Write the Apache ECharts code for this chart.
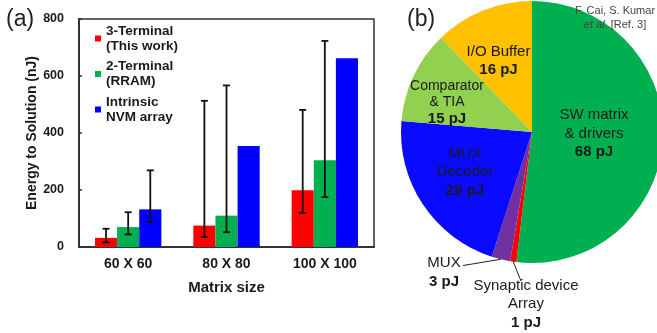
<!DOCTYPE html>
<html>
<head>
<meta charset="utf-8">
<script src="https://cdn.jsdelivr.net/npm/echarts@6/dist/echarts.min.js"></script>
<style>
  html, body { margin: 0; padding: 0; background: #fff; }
  #chart { width: 657px; height: 333px; }
</style>
</head>
<body>
<div id="chart"></div>
<script>
// ---- (a) energy to solution per matrix size (nJ) ----
const matrixSizes = ['60 X 60', '80 X 80', '100 X 100'];
const seriesNames = ['3-Terminal\n(This work)', '2-Terminal\n(RRAM)', 'Intrinsic\nNVM array'];
const threeTerminal = [32, 75, 199];
const twoTerminal = [70, 110, 304];
const intrinsicNvm = [132, 354, 662];
// error ranges [low, high]; null = no bar
const threeTerminalRange = [[16, 64], [35, 513], [120, 481]];
const twoTerminalRange = [[44, 122], [52, 567], [175, 723]];
const intrinsicRange = [[87, 269], null, null];
const yAxisMax = 800;
const yAxisStep = 200;

// ---- (b) energy breakdown (pJ) ----
const blockNames = ['SW matrix\n& drivers', 'Synaptic device\nArray', 'MUX', 'MUX\nDecoder', 'Comparator\n& TIA', 'I/O Buffer'];
const blockEnergy = [68, 1, 3, 28, 15, 16];

const FONT = '"Liberation Sans", Arial, sans-serif';
const barColors = ['#ff0000', '#00b050', '#0000ff'];
const sliceColors = ['#00b050', '#ff0000', '#7030a0', '#0a0aff', '#92d050', '#ffc000'];
const BAR_FRAC = 0.225;

const PIE_CX = 532, PIE_CY = 132, PIE_R = 131;

const barValues = [threeTerminal, twoTerminal, intrinsicNvm];
const ranges = [threeTerminalRange, twoTerminalRange, intrinsicRange];

const errorData = [];
ranges.forEach((r, si) => r.forEach((v, ci) => {
  if (v) errorData.push([ci, v[0], v[1], si]);
}));

function renderError(params, api) {
  const ci = api.value(0), lo = api.value(1), hi = api.value(2), si = api.value(3);
  const catW = api.size([1, 0])[0];
  const x = api.coord([ci, 0])[0] + (si - 1) * catW * BAR_FRAC;
  const yLo = api.coord([ci, lo])[1];
  const yHi = api.coord([ci, hi])[1];
  const cap = 3.5;
  const st = { stroke: '#111', lineWidth: 1.8 };
  return {
    type: 'group',
    children: [
      { type: 'line', shape: { x1: x, y1: yLo, x2: x, y2: yHi }, style: st },
      { type: 'line', shape: { x1: x - cap, y1: yHi, x2: x + cap, y2: yHi }, style: st },
      { type: 'line', shape: { x1: x - cap, y1: yLo, x2: x + cap, y2: yLo }, style: st }
    ]
  };
}

// label block centres for the breakdown pie
const sliceLabelPos = [[594, 133.5], [526, 304], [444, 272.5], [465, 172], [447, 102.5], [498.5, 61]];
const leaderEnds = { 1: [521, 281], 2: [463, 265.5] };

// slice mid-angles (clockwise from 12 o'clock), from the data
const total = blockEnergy.reduce((a, b) => a + b, 0);
const midAngles = [];
{
  let acc = 0;
  blockEnergy.forEach(v => { midAngles.push((acc + v / 2) / total * 2 * Math.PI); acc += v; });
}

const pieData = blockNames.map((n, i) => {
  const d = { name: n, value: blockEnergy[i], itemStyle: { color: sliceColors[i] } };
  if (i === 1 || i === 2) {
    d.label = { position: 'outside' };
    d.labelLine = { show: true };
  }
  return d;
});

const chart = echarts.init(document.getElementById('chart'), null, { renderer: 'canvas' });

chart.setOption({
  backgroundColor: '#fff',
  animation: false,
  textStyle: { fontFamily: FONT },
  grid: {
    left: 79, top: 19, right: 283, bottom: 86,
    show: true, borderColor: '#333', borderWidth: 1.5, backgroundColor: '#fff'
  },
  legend: {
    orient: 'vertical',
    left: 95, top: 16,
    padding: 0,
    itemGap: -9.5,
    icon: 'rect',
    itemWidth: 6, itemHeight: 6,
    data: seriesNames,
    textStyle: {
      fontFamily: FONT, fontSize: 13.5, fontWeight: 'bold', color: '#1a1a1a',
      lineHeight: 15, padding: [15, 0, 0, 0]
    }
  },
  xAxis: {
    type: 'category',
    data: matrixSizes,
    name: 'Matrix size',
    nameLocation: 'middle',
    nameGap: 33,
    nameTextStyle: { fontFamily: FONT, fontSize: 15, fontWeight: 'bold', color: '#1a1a1a' },
    axisLine: { lineStyle: { color: '#333', width: 2 } },
    axisTick: { inside: true, length: 4, lineStyle: { color: '#333', width: 1.5 } },
    axisLabel: { fontFamily: FONT, fontSize: 14, fontWeight: 'bold', color: '#1a1a1a', margin: 10 }
  },
  yAxis: {
    type: 'value',
    min: 0, max: yAxisMax, interval: yAxisStep,
    name: 'Energy to Solution (nJ)',
    nameLocation: 'middle',
    nameGap: 39,
    nameTextStyle: { fontFamily: FONT, fontSize: 14, fontWeight: 'bold', color: '#1a1a1a' },
    splitLine: { show: false },
    axisLine: { show: true, lineStyle: { color: '#333', width: 2 } },
    axisTick: { show: true, inside: true, length: 3, lineStyle: { color: '#333', width: 1.5 } },
    axisLabel: { fontFamily: FONT, fontSize: 12.5, fontWeight: 'bold', color: '#1a1a1a', margin: 15 }
  },
  series: [
    ...barValues.map((vals, i) => ({
      type: 'bar',
      name: seriesNames[i],
      data: vals,
      barWidth: (BAR_FRAC * 100) + '%',
      barGap: '0%',
      itemStyle: { color: barColors[i] },
      z: 2
    })),
    {
      type: 'custom',
      renderItem: renderError,
      data: errorData,
      encode: { x: 0, y: [1, 2] },
      z: 5,
      silent: true
    },
    {
      type: 'pie',
      center: [PIE_CX, PIE_CY],
      radius: PIE_R,
      startAngle: 90,
      clockwise: true,
      avoidLabelOverlap: false,
      data: pieData,
      itemStyle: { borderWidth: 0 },
      label: {
        position: 'inside',
        fontFamily: FONT,
        color: '#1a1a1a',
        formatter: p => {
          const small = p.dataIndex === 4;
          const lines = p.name.split('\n').map(l => '{' + (small ? 's' : 'n') + '|' + l + '}');
          lines.push('{' + (small ? 'sb' : 'b') + '|' + p.value + ' pJ}');
          return lines.join('\n');
        },
        rich: {
          n: { fontFamily: FONT, fontSize: 15, lineHeight: 18.5, color: '#1a1a1a' },
          b: { fontFamily: FONT, fontSize: 15, fontWeight: 'bold', lineHeight: 18.5, color: '#1a1a1a' },
          s: { fontFamily: FONT, fontSize: 14, lineHeight: 16.5, color: '#1a1a1a' },
          sb: { fontFamily: FONT, fontSize: 15, fontWeight: 'bold', lineHeight: 16.5, color: '#1a1a1a' }
        }
      },
      labelLine: { show: false, lineStyle: { color: '#222', width: 1 } },
      labelLayout: params => {
        const i = params.dataIndex;
        const pos = sliceLabelPos[i];
        const out = { x: pos[0], y: pos[1], align: 'center', verticalAlign: 'middle' };
        if (leaderEnds[i]) {
          const a = midAngles[i];
          const start = [PIE_CX + PIE_R * Math.sin(a), PIE_CY - PIE_R * Math.cos(a)];
          const end = leaderEnds[i];
          out.labelLinePoints = [start, end, end];
        }
        return out;
      },
      z: 3
    }
  ],
  graphic: [
    { type: 'text', left: 6, top: 8, style: { text: '(a)', fontFamily: FONT, fontSize: 23, fill: '#222' } },
    { type: 'text', left: 407, top: 8, style: { text: '(b)', fontFamily: FONT, fontSize: 23, fill: '#222' } },
    {
      type: 'text', x: 615, y: 4, z: 10,
      style: {
        text: 'F. Cai, S. Kumar\n{i|et al.} [Ref. 3]',
        fontFamily: FONT, fontSize: 11, lineHeight: 14, fill: '#444', align: 'center',
        rich: { i: { fontFamily: FONT, fontSize: 11, fontStyle: 'italic', fill: '#444' } }
      }
    }
  ]
});
</script>
</body>
</html>
